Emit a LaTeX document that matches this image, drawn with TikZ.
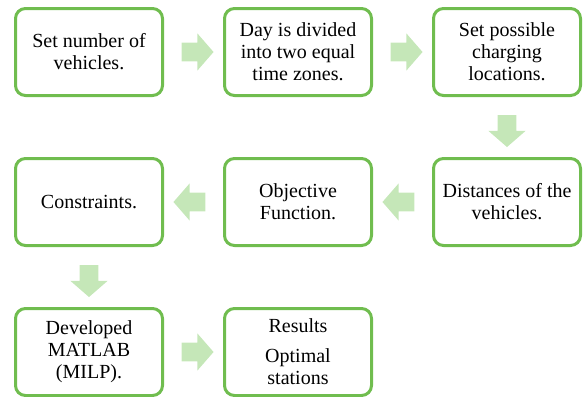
\documentclass[tikz,border=0pt]{standalone}
\usepackage{fontspec}
\setmainfont{Liberation Serif}
\newfontfamily\stepfont{Liberation Serif}
\usetikzlibrary{positioning}
\usetikzlibrary{calc}
\usetikzlibrary{shapes.arrows}
\definecolor{boxgreen}{RGB}{112,189,79}
\definecolor{arrowgreen}{RGB}{197,231,184}
\tikzset{
	box/.style = {draw = boxgreen, line width = 2.25pt, rectangle, rounded corners = 7.5pt, minimum width = 110.25pt, minimum height = 65.25pt, align = center, inner sep = 0pt, font = \stepfont\fontsize{15}{16.5}\selectfont},
	blockarrow/.style = {single arrow, fill = arrowgreen, draw = none, minimum height = 24pt, inner xsep = 0pt, inner ysep = 6.75pt, single arrow head extend = 7pt, single arrow tip angle = 98}
}

\begin{document}
\begin{tikzpicture}[node distance = 45pt and 44.25pt]
		\useasboundingbox (0,0) rectangle (438.75pt,-297pt);
		\node[box] at (66.75pt,-39pt) (veh) {Set number of\\vehicles.};
		\node[box, right = of veh] (zones) {Day is divided\\into two equal\\time zones.};
		\node[box, right = of zones] (loc) {Set possible\\charging\\locations.};
		\node[box, below = of loc] (dist) {Distances of the\\vehicles.};
		\node[box, left = of dist] (obj) {Objective\\Function.};
		\node[box, left = of obj] (cons) {Constraints.};
		\node[box, below = of cons] (milp) {Developed\\MATLAB\\(MILP).};
		\node[box, right = of milp] (res) {Results\\[6pt]Optimal\\stations};
		% block arrows between the steps
		\node[blockarrow] at ($(veh)!0.5!(zones)$) (a1) {};
		\node[blockarrow] at ($(zones)!0.5!(loc)$) (a2) {};
		\node[blockarrow, rotate = -90] at ($(loc)!0.5!(dist)$) (a3) {};
		\node[blockarrow, rotate = 180] at ($(dist)!0.5!(obj)$) (a4) {};
		\node[blockarrow, rotate = 180] at ($(obj)!0.5!(cons)$) (a5) {};
		\node[blockarrow, rotate = -90] at ($(cons)!0.5!(milp)$) (a6) {};
		\node[blockarrow] at ($(milp)!0.5!(res)$) (a7) {};
	\end{tikzpicture}
\end{document}
